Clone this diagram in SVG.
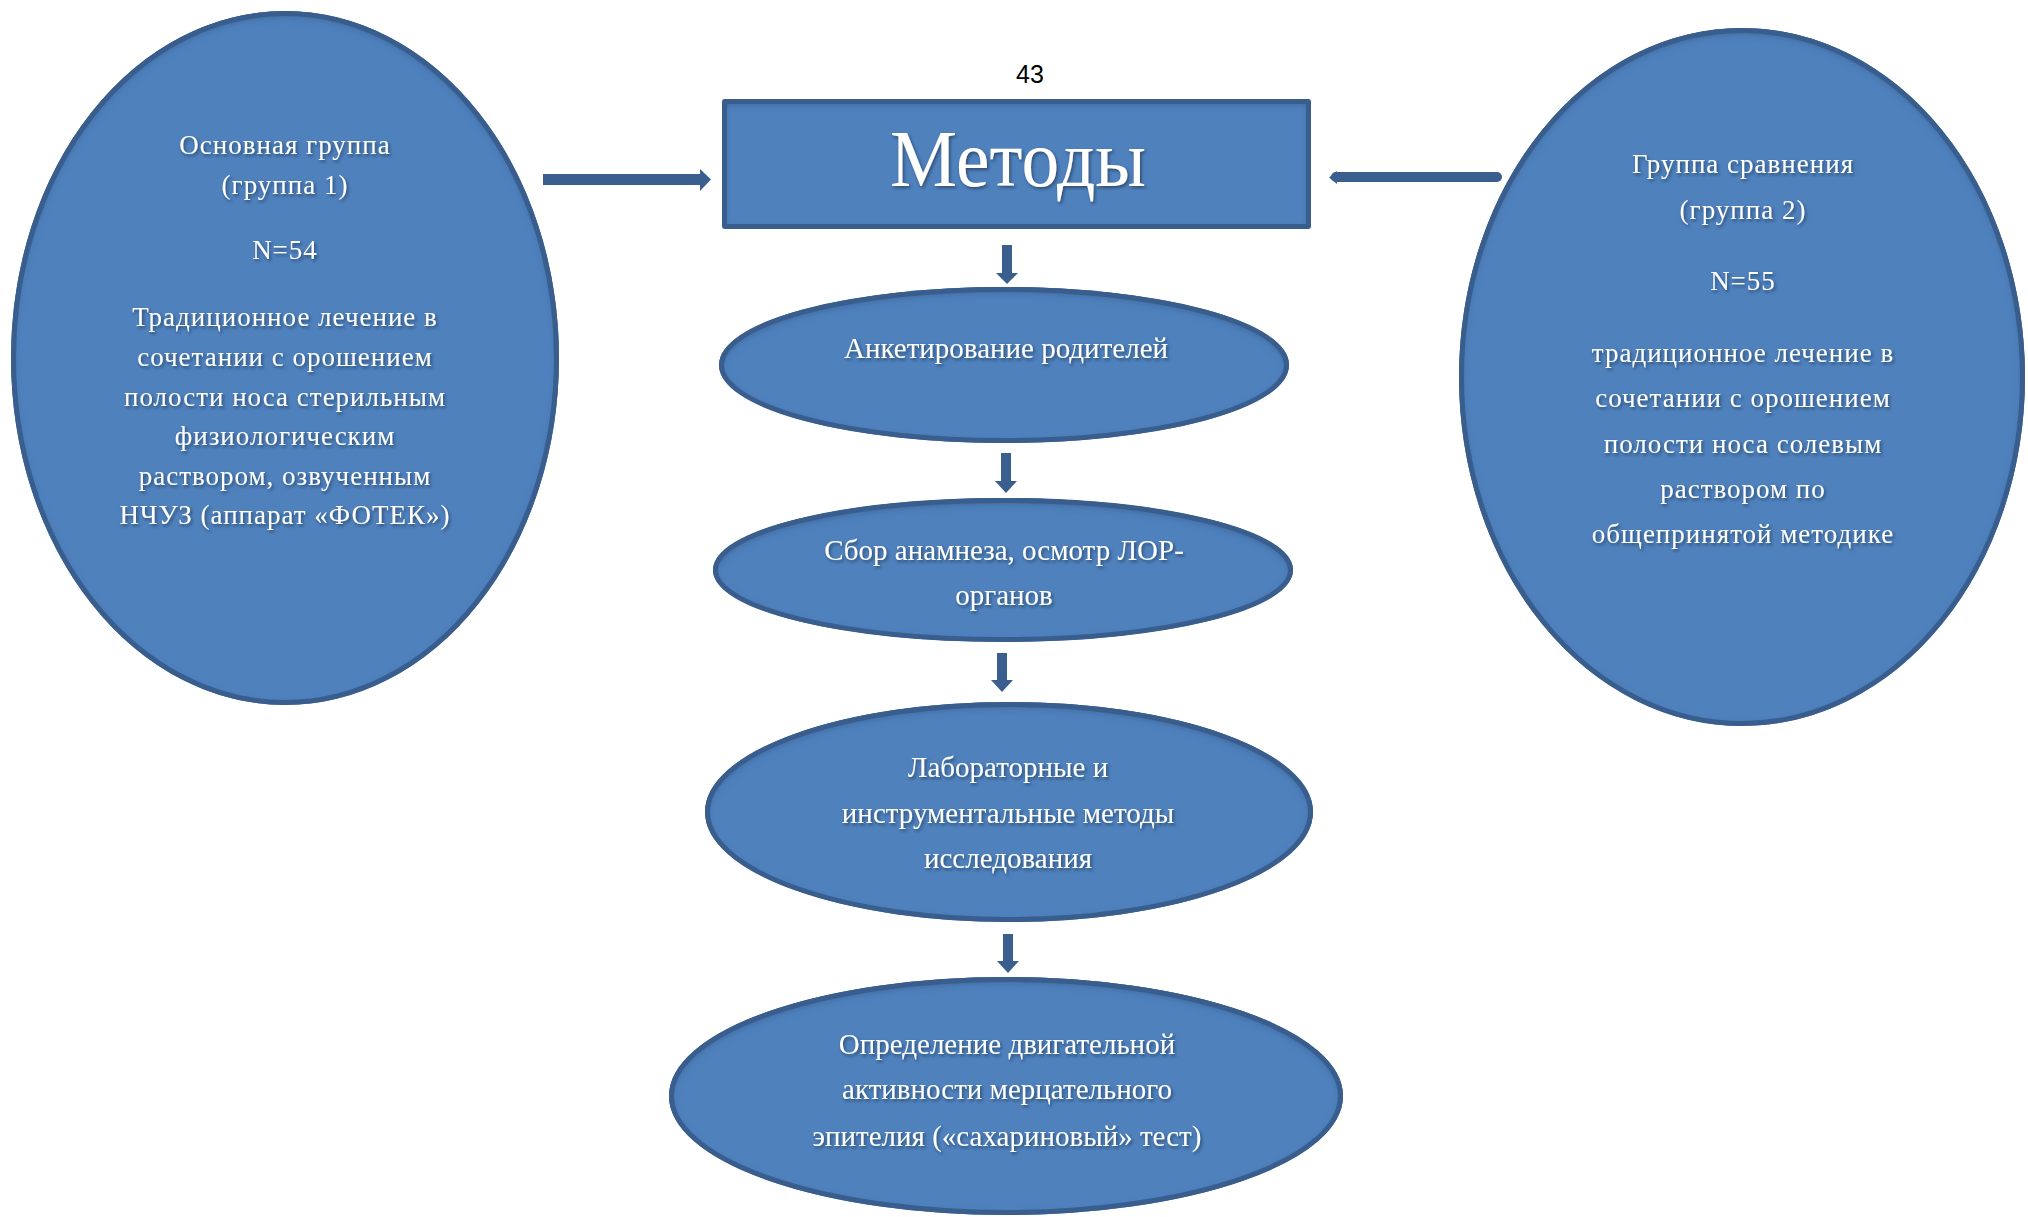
<svg xmlns="http://www.w3.org/2000/svg" width="2028" height="1217" viewBox="0 0 2028 1217">
<defs>
  <filter id="inner" x="-5%" y="-5%" width="110%" height="110%">
    <feComponentTransfer in="SourceAlpha" result="inv"><feFuncA type="table" tableValues="1 0"/></feComponentTransfer>
    <feGaussianBlur in="inv" stdDeviation="5" result="blur"/>
    <feOffset in="blur" dx="0" dy="3" result="off"/>
    <feFlood flood-color="#1d3558" flood-opacity="0.8" result="col"/>
    <feComposite in="col" in2="off" operator="in" result="sh"/>
    <feComposite in="sh" in2="SourceAlpha" operator="in" result="shin"/>
    <feMerge><feMergeNode in="SourceGraphic"/><feMergeNode in="shin"/></feMerge>
  </filter>
  <filter id="tshadow" x="-10%" y="-30%" width="120%" height="160%">
    <feDropShadow dx="1.5" dy="2" stdDeviation="1.5" flood-color="#0b1a2e" flood-opacity="0.55"/>
  </filter>
</defs>
<style>
  .fill { fill: #4f81bd; filter: url(#inner); }
  .edge { fill: none; stroke: #395e8e; stroke-width: 5; }
  .t { font-family: "Liberation Serif", "Times New Roman", serif; fill: #ffffff; text-anchor: middle; filter: url(#tshadow); }
  .side { font-size: 27px; letter-spacing: 1px; }
  .mid { font-size: 29px; }
  .title { font-size: 80px; }
  .pg { font-family: "Liberation Sans", Arial, sans-serif; font-size: 25px; fill: #000; text-anchor: middle; }
  .arr { fill: #3a5f8e; }
</style>
<rect width="2028" height="1217" fill="#ffffff"/>

<text class="pg" x="1030" y="83">43</text>

<g id="connectors">
  <rect class="arr" x="543" y="174" width="158" height="11"/>
  <polygon class="arr" points="700,169 711,179.5 700,191"/>
  <line x1="1497" y1="177" x2="1336" y2="177" stroke="#3a5f8e" stroke-width="10" stroke-linecap="round"/>
  <polygon class="arr" points="1337,171 1329,177.5 1337,184"/>
  <rect class="arr" x="1002" y="245" width="10" height="29"/>
  <polygon class="arr" points="996,273 1018,273 1007,284"/>
  <rect class="arr" x="1001" y="453" width="10" height="29"/>
  <polygon class="arr" points="995,481 1017,481 1006,493"/>
  <rect class="arr" x="997" y="653" width="10" height="28"/>
  <polygon class="arr" points="991,680 1013,680 1002,692"/>
  <rect class="arr" x="1003" y="934" width="10" height="28"/>
  <polygon class="arr" points="997,961 1019,961 1008,973"/>
</g>

<g id="node-methods">
  <rect class="fill" x="722" y="99" width="589" height="130" rx="3"/>
  <rect class="edge" x="724.5" y="101.5" width="584" height="125" rx="2"/>
  <text class="t title" x="1018" y="186" textLength="256" lengthAdjust="spacingAndGlyphs">Методы</text>
</g>

<g id="node-group1">
  <ellipse class="fill" cx="285" cy="358" rx="274" ry="347"/>
  <ellipse class="edge" cx="285" cy="358" rx="271.5" ry="344.5"/>
  <text class="t side" x="285" y="154">Основная группа</text>
  <text class="t side" x="285" y="194">(группа 1)</text>
  <text class="t side" x="285" y="259">N=54</text>
  <text class="t side" x="285" y="326">Традиционное  лечение в</text>
  <text class="t side" x="285" y="366">сочетании с орошением</text>
  <text class="t side" x="285" y="406">полости носа стерильным</text>
  <text class="t side" x="285" y="445">физиологическим</text>
  <text class="t side" x="285" y="485">раствором, озвученным</text>
  <text class="t side" x="285" y="524">НЧУЗ (аппарат «ФОТЕК»)</text>
</g>

<g id="node-group2">
  <ellipse class="fill" cx="1742" cy="377" rx="283" ry="349"/>
  <ellipse class="edge" cx="1742" cy="377" rx="280.5" ry="346.5"/>
  <text class="t side" x="1743" y="173">Группа сравнения</text>
  <text class="t side" x="1743" y="219">(группа 2)</text>
  <text class="t side" x="1743" y="290">N=55</text>
  <text class="t side" x="1743" y="362">традиционное лечение в</text>
  <text class="t side" x="1743" y="407">сочетании с орошением</text>
  <text class="t side" x="1743" y="453">полости носа солевым</text>
  <text class="t side" x="1743" y="498">раствором по</text>
  <text class="t side" x="1743" y="543">общепринятой методике</text>
</g>

<g id="node-survey">
  <ellipse class="fill" cx="1004" cy="365" rx="285" ry="78"/>
  <ellipse class="edge" cx="1004" cy="365" rx="282.5" ry="75.5"/>
  <text class="t mid" x="1006" y="358">Анкетирование родителей</text>
</g>

<g id="node-anamnesis">
  <ellipse class="fill" cx="1003" cy="570" rx="290" ry="72"/>
  <ellipse class="edge" cx="1003" cy="570" rx="287.5" ry="69.5"/>
  <text class="t mid" x="1004" y="560">Сбор анамнеза, осмотр ЛОР-</text>
  <text class="t mid" x="1004" y="605">органов</text>
</g>

<g id="node-lab">
  <ellipse class="fill" cx="1009" cy="812" rx="304" ry="110"/>
  <ellipse class="edge" cx="1009" cy="812" rx="301.5" ry="107.5"/>
  <text class="t mid" x="1008" y="777">Лабораторные и</text>
  <text class="t mid" x="1008" y="823">инструментальные методы</text>
  <text class="t mid" x="1008" y="868">исследования</text>
</g>

<g id="node-saccharin">
  <ellipse class="fill" cx="1006" cy="1096" rx="337" ry="119"/>
  <ellipse class="edge" cx="1006" cy="1096" rx="334.5" ry="116.5"/>
  <text class="t mid" x="1007" y="1054">Определение двигательной</text>
  <text class="t mid" x="1007" y="1099">активности мерцательного</text>
  <text class="t mid" x="1007" y="1146">эпителия («сахариновый» тест)</text>
</g>
</svg>
